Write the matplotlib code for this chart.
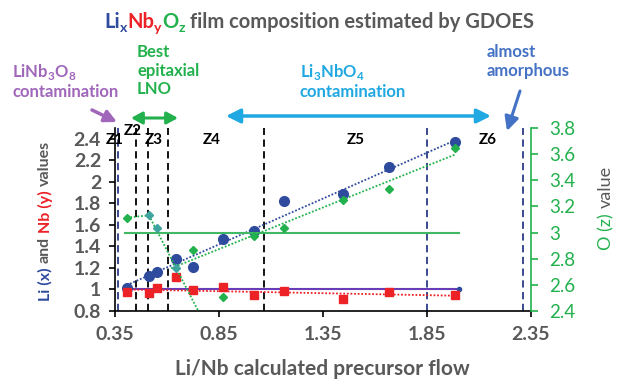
import matplotlib
matplotlib.use('Agg')
import matplotlib.pyplot as plt

# Li/Nb precursor flow and GDOES composition per film
flow = [0.406, 0.513, 0.550, 0.642, 0.726, 0.868, 1.018, 1.163, 1.448, 1.666, 1.986]
li_x = [1.017, 1.128, 1.162, 1.280, 1.212, 1.472, 1.546, 1.820, 1.887, 2.138, 2.371]
nb_y = [0.974, 0.967, 1.017, 1.119, 0.998, 1.026, 0.949, 0.986, 0.909, 0.979, 0.949]
o_z = [3.114, 3.132, 3.033, 2.731, 2.864, 2.505, 2.974, 3.033, 3.249, 3.336, 3.645]
o_zone23 = [1, 2, 3]  # films in zones Z2/Z3 (separate O series)

# trend lines (end points)
li_trend_x, li_trend = [0.406, 1.99], [1.04, 2.39]
nb_trend_x, nb_trend = [0.406, 1.99], [1.00, 0.942]
o_drop_x, o_drop = [0.513, 0.76], [3.132, 2.37]
o_rise_x, o_rise = [0.62, 1.99], [2.727, 3.60]

# stoichiometric references
stoich_x = [0.406, 2.006]
li_stoich = [1.0, 1.0]
o_stoich = [3.0, 3.0]

# zone borders and labels
zone_navy = [0.363, 1.849, 2.31]
zone_black = [0.451, 0.510, 0.606, 1.068]
zone_names = ['Z1', 'Z2', 'Z3', 'Z4', 'Z5', 'Z6']
zone_label_x = [0.348, 0.438, 0.534, 0.815, 1.509, 2.143]
zone_label_y = [2.39, 2.47, 2.39, 2.39, 2.39, 2.39]

xticks = [0.35, 0.85, 1.35, 1.85, 2.35]
yticks = [0.8, 1.0, 1.2, 1.4, 1.6, 1.8, 2.0, 2.2, 2.4]
zticks = [2.4, 2.6, 2.8, 3.0, 3.2, 3.4, 3.6, 3.8]

BLUE = '#2F4B9E'
RED = '#EC2227'
GREEN = '#22B14C'
TEAL = '#3FA3A0'
GRAY = '#595959'
PURPLE = '#A066BA'
CYAN = '#1FA8E1'
SKY = '#4472C4'
NAVY = '#2B3A86'

plt.rcParams['font.family'] = ['Lato', 'DejaVu Sans']

W, H = 617, 382
fig = plt.figure(figsize=(W / 100, H / 100), dpi=100)
ax = fig.add_axes([115 / W, 1 - 311 / H, 416 / W, 183 / H])
ax2 = ax.twinx()


def fpx(x, y):
    # figure pixels measured from the top-left corner
    return (x, H - y)


# zone borders
for xv in zone_navy:
    ax.axvline(xv, color=NAVY, lw=1.3, ls=(0, (4, 2.5)), zorder=1)
for xv in zone_black:
    ax.axvline(xv, color='black', lw=1.3, ls=(0, (4, 2.5)), zorder=1)
for name, zx, zy in zip(zone_names, zone_label_x, zone_label_y):
    ax.text(zx, zy, name, ha='center', va='center', fontsize=11, fontweight='bold',
            color='black', zorder=6)

# Li and Nb (left axis)
ax.plot(stoich_x, li_stoich, color='#6A3DB8', lw=1.5, zorder=2)
ax.plot(stoich_x[1], li_stoich[1], 'o', color=BLUE, ms=3, zorder=3)
ax.plot(li_trend_x, li_trend, color=BLUE, lw=1.3, ls=(0, (1, 1)), zorder=2)
ax.plot(nb_trend_x, nb_trend, color=RED, lw=1.3, ls=(0, (1, 1)), zorder=2)
ax.plot(flow, li_x, 'o', color=BLUE, ms=7, zorder=4)
ax.plot(flow, nb_y, 's', color=RED, ms=6, zorder=4)

# O (right axis)
ax2.plot([stoich_x[0] - 0.008, stoich_x[1]], o_stoich, color='#41B864', lw=1.5, zorder=2)
ax2.plot(flow[:2], o_z[:2], color=GREEN, lw=1.3, ls=(0, (1, 1)), zorder=2)
ax2.plot(o_drop_x, o_drop, color=GREEN, lw=1.3, ls=(0, (1, 1)), zorder=2)
ax2.plot(o_rise_x, o_rise, color=GREEN, lw=1.3, ls=(0, (1, 1)), zorder=2)
o_main = [i for i in range(len(flow)) if i not in o_zone23]
ax2.plot([flow[i] for i in o_main], [o_z[i] for i in o_main], 'D', color=GREEN, ms=4.5, zorder=4)
ax2.plot([flow[i] for i in o_zone23], [o_z[i] for i in o_zone23], 'D', color=TEAL, ms=4.5, zorder=4)

ax.set_xlim(0.35, 2.35)
ax.set_ylim(0.8, 2.5)
ax2.set_ylim(2.4, 3.8)
ax.set_xticks(xticks)
ax.set_xticklabels([f'{v:g}' for v in xticks], fontweight='bold')
ax.set_yticks(yticks)
ax.set_yticklabels([f'{v:g}' for v in yticks], fontweight='bold')
ax2.set_yticks(zticks)
ax2.set_yticklabels([f'{v:g}' for v in zticks])

for s in ['top', 'right']:
    ax.spines[s].set_visible(False)
for s in ['top', 'left', 'bottom']:
    ax2.spines[s].set_visible(False)
ax.spines['left'].set_linewidth(1.2)
ax.spines['bottom'].set_linewidth(1.2)
ax2.spines['right'].set_color(GREEN)
ax2.spines['right'].set_linewidth(1.2)
ax.tick_params(axis='x', length=4, width=1.2, labelsize=14, labelcolor=GRAY, pad=7)
ax.tick_params(axis='y', length=4, width=1.2, labelsize=14, labelcolor=GRAY, pad=6)
ax2.tick_params(axis='y', length=5, width=1.2, color=GREEN, labelsize=13.5, labelcolor=GREEN, pad=8)

fig.text(322 / W, 1 - 369 / H, 'Li/Nb calculated precursor flow', fontsize=15,
         fontweight='bold', color=GRAY, ha='center', va='center')

fig.canvas.draw()
renderer = fig.canvas.get_renderer()


def space_width(size, weight):
    probe = fig.text(0, 0, 'a a', fontsize=size, fontweight=weight)
    w2 = probe.get_window_extent(renderer).width
    probe.set_text('aa')
    w1 = probe.get_window_extent(renderer).width
    probe.remove()
    return w2 - w1


def colored_text(pieces, x, y, size, weight='bold', rotation=0):
    # pieces: (text, colour, scale, shift, space before); centred on (x, y) in pixels
    sp = space_width(size, weight)
    arts, lens, gaps = [], [], []
    for txt, col, scale, shift, gap in pieces:
        t = fig.text(0, 0, txt, color=col, fontsize=size * scale, fontweight=weight,
                     rotation=rotation, transform=None,
                     ha='left' if rotation == 0 else 'center',
                     va='baseline' if rotation == 0 else 'bottom')
        bb = t.get_window_extent(renderer)
        arts.append((t, shift))
        lens.append(bb.width if rotation == 0 else bb.height)
        gaps.append(sp if gap else 0)
    total = sum(lens) + sum(gaps)
    pos = (x if rotation == 0 else H - y) - total / 2
    for (t, shift), ln, g in zip(arts, lens, gaps):
        pos += g
        if rotation == 0:
            t.set_position((pos, H - y - shift))
        else:
            t.set_position((x, pos))
        pos += ln


colored_text([('Li', BLUE, 1, 0, False), ('x', BLUE, 0.7, 4, False),
              ('Nb', RED, 1, 0, False), ('y', RED, 0.7, 4, False),
              ('O', GREEN, 1, 0, False), ('z', GREEN, 0.7, 4, False),
              ('film composition estimated by GDOES', GRAY, 1, 0, True)],
             319, 28, 14.5)

colored_text([('Li (x)', BLUE, 1, 0, False), ('and', GRAY, 1, 0, True),
              ('Nb (y)', RED, 1, 0, True), ('values', GRAY, 1, 0, True)],
             45, 221, 11.5, rotation=90)
colored_text([('O (z)', GREEN, 1, 0, False), ('value', GRAY, 1, 0, True)],
             606, 208, 13, weight='normal', rotation=90)

# phase annotations
fig.text(12 / W, 1 - 62 / H, 'LiNb$_\\mathregular{3}$O$_\\mathregular{8}$\ncontamination',
         color=PURPLE, fontsize=12, fontweight='bold', ha='left', va='top', linespacing=1.15)
fig.text(137 / W, 1 - 44 / H, 'Best\nepitaxial\nLNO', color=GREEN, fontsize=12,
         fontweight='bold', ha='left', va='top', linespacing=1.2)
fig.text(300 / W, 1 - 62 / H, 'Li$_\\mathregular{3}$NbO$_\\mathregular{4}$\ncontamination',
         color=CYAN, fontsize=12, fontweight='bold', ha='left', va='top', linespacing=1.15)
fig.text(487 / W, 1 - 44 / H, 'almost\namorphous', color=SKY, fontsize=12,
         fontweight='bold', ha='left', va='top', linespacing=1.2)

arrow_kw = dict(xycoords='figure pixels', textcoords='figure pixels', annotation_clip=False)
ax.annotate('', xy=fpx(117, 122), xytext=fpx(92, 110),
            arrowprops=dict(arrowstyle='-|>,head_length=0.6,head_width=0.3', color=PURPLE,
                            lw=2.5, mutation_scale=12, shrinkA=0, shrinkB=0), **arrow_kw)
ax.annotate('', xy=fpx(178, 118), xytext=fpx(131, 118),
            arrowprops=dict(arrowstyle='<|-|>,head_length=0.55,head_width=0.3', color=GREEN,
                            lw=2.2, mutation_scale=12, shrinkA=0, shrinkB=0), **arrow_kw)
ax.annotate('', xy=fpx(491, 116), xytext=fpx(226, 116),
            arrowprops=dict(arrowstyle='<|-|>,head_length=0.7,head_width=0.35', color=CYAN,
                            lw=2.5, mutation_scale=12, shrinkA=0, shrinkB=0), **arrow_kw)
ax.annotate('', xy=fpx(507, 131), xytext=fpx(520, 91),
            arrowprops=dict(arrowstyle='-|>,head_length=0.7,head_width=0.35', color=SKY,
                            lw=2.2, mutation_scale=12, shrinkA=0, shrinkB=0), **arrow_kw)

fig.savefig('out.png', dpi=100)
